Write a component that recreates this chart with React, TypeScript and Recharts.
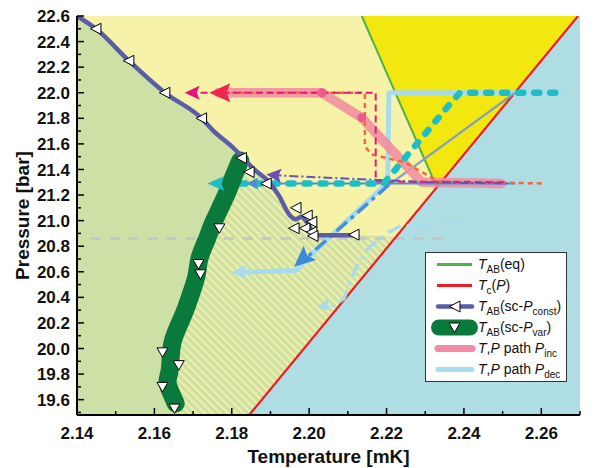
import { ComposedChart, Line, Area, Scatter, XAxis, YAxis, Legend } from 'recharts';

const FONT = '"Liberation Sans", Arial, Helvetica, sans-serif';

// axis ticks
const X_TICKS = [2.14, 2.15, 2.16, 2.17, 2.18, 2.19, 2.2, 2.21, 2.22, 2.23, 2.24, 2.25, 2.26, 2.27];
const Y_TICKS = [
  19.5, 19.6, 19.7, 19.8, 19.9, 20.0, 20.1, 20.2, 20.3, 20.4, 20.5, 20.6, 20.7, 20.8, 20.9, 21.0,
  21.1, 21.2, 21.3, 21.4, 21.5, 21.6, 21.7, 21.8, 21.9, 22.0, 22.1, 22.2, 22.3, 22.4, 22.5, 22.6,
];
const X_DOMAIN = [2.14, 2.27];
const Y_DOMAIN = [19.48, 22.6];

// T_c(P)
const TC_T = [2.1845, 2.2695];
const TC_P = [19.48, 22.6];

// T_AB(eq)
const EQ_T = [2.2136, 2.233];
const EQ_P = [22.6, 21.26];

// T_AB(sc-P_const)
const SCP_T = [2.14, 2.1449, 2.1534, 2.1627, 2.1722, 2.175, 2.1807, 2.1858, 2.1897, 2.1923, 2.1948, 2.1966, 2.1979, 2.2, 2.2013, 2.2025, 2.212];
const SCP_P = [22.6, 22.5, 22.25, 22.0, 21.8, 21.71, 21.56, 21.4, 21.3, 21.19, 21.05, 21.01, 21.03, 20.96, 20.89, 20.885, 20.885];
const SCP_MK_T = [2.1449, 2.1534, 2.1627, 2.1722, 2.1825, 2.1845, 2.1889, 2.1966, 2.1995, 2.2007, 2.1961, 2.1989, 2.2007, 2.201, 2.2116];
const SCP_MK_P = [22.5, 22.25, 22.0, 21.8, 21.49, 21.38, 21.29, 21.1, 21.04, 20.99, 20.94, 20.94, 20.91, 20.88, 20.89];

// T_AB(sc-P_var)
const SCV_T = [2.1655, 2.1642, 2.1634, 2.1639, 2.1642, 2.1647, 2.1663, 2.1681, 2.1696, 2.1709, 2.1717, 2.1735, 2.1753, 2.1784, 2.1804, 2.1822];
const SCV_P = [19.57, 19.66, 19.74, 19.82, 19.92, 20.05, 20.18, 20.31, 20.44, 20.57, 20.71, 20.85, 20.99, 21.19, 21.34, 21.47];
const SCV_MK_T = [2.1652, 2.1621, 2.1663, 2.1621, 2.1719, 2.1714, 2.1768];
const SCV_MK_P = [19.53, 19.7, 19.87, 19.97, 20.58, 20.66, 20.94];

// T,P path P_inc
const INC_T = [2.2497, 2.2291, 2.2136, 2.2033, 2.1765];
const INC_P = [21.29, 21.3, 21.805, 22.0, 22.0];
const INC_NODE_T = [2.2136, 2.2033];
const INC_NODE_P = [21.805, 22.0];

// T,P path P_dec
const DEC_T = [2.2664, 2.2206, 2.2203, 2.1987, 2.1966, 2.182];
const DEC_P = [22.0, 22.0, 21.3, 20.68, 20.61, 20.597];

// other guide paths
const ORANGE_T = [2.1752, 2.2144, 2.2144, 2.2162, 2.2249, 2.2334, 2.261];
const ORANGE_P = [22.0, 22.0, 21.58, 21.517, 21.454, 21.306, 21.29];
const MAGENTA_T = [2.1691, 2.2172, 2.2172, 2.2514];
const MAGENTA_P = [22.0, 22.0, 21.306, 21.3];
const PURPLE_T = [2.1905, 2.2309, 2.2515];
const PURPLE_P = [21.355, 21.3, 21.29];
const TEAL_T = [2.2636, 2.239, 2.2373, 2.2201, 2.2193, 2.1765];
const TEAL_P = [22.0, 22.0, 21.945, 21.32, 21.29, 21.29];
const STEEL_T = [2.1845, 2.2533];
const STEEL_P = [21.29, 21.29];
const SLATE_T = [2.2206, 2.2532];
const SLATE_P = [21.28, 22.0];
const BLUEDD_T = [2.2206, 2.1982];
const BLUEDD_P = [21.28, 20.68];
const LBDD_T = [2.2386, 2.2231, 2.2206, 2.2154, 2.2123, 2.2103, 2.209, 2.2064, 2.2035];
const LBDD_P = [20.99, 20.95, 20.91, 20.79, 20.64, 20.5, 20.39, 20.34, 20.32];
const GRAY_T = [2.1435, 2.2355];
const GRAY_P = [20.86, 20.86];

// arrow tips
const ARW_MAGENTA = { T: 2.1678, P: 22.0 };
const ARW_RED = { T: 2.1742, P: 22.0 };
const ARW_PURPLE = { T: 2.1889, P: 21.36 };
const ARW_TEAL = { T: 2.1737, P: 21.29 };
const ARW_STEEL = { T: 2.1838, P: 21.29 };
const ARW_BLUE = { T: 2.1961, P: 20.64 };
const ARW_DEC = { T: 2.1799, P: 20.597 };
const ARW_LBDD = { T: 2.202, P: 20.32 };

// regions
const BASE_T = [2.14, 2.27];
const BASE_LO = [19.48, 19.48];
const BASE_HI = [22.6, 22.6];
const GREEN_T = [...SCP_T, 2.2221];
const GREEN_HI = [...SCP_P, 20.87];
const HATCH_T = [2.1647, 2.1663, 2.1681, 2.1696, 2.1709, 2.1717, 2.1735, 2.1753, 2.1784, 2.1804, 2.1822, 2.1858, 2.1897, 2.1923, 2.1948, 2.1966, 2.1979, 2.2, 2.2013, 2.2025, 2.2221];
const HATCH_HI = [20.05, 20.18, 20.31, 20.44, 20.57, 20.71, 20.85, 20.99, 21.19, 21.34, 21.47, 21.4, 21.3, 21.19, 21.05, 21.01, 21.03, 20.96, 20.89, 20.87, 20.87];
const NORMAL_T = [2.1845, 2.2695, 2.27];
const NORMAL_HI = [19.48, 22.6, 22.6];
const AB_T = [2.2136, 2.233, 2.2695];
const AB_LO = [22.6, 21.26, 22.6];

const pts = (t: number[], p: number[]) => t.map((T, i) => ({ T, P: p[i] }));
const region = (t: number[], lo: number[] | number, hi: number[] | number) =>
  t.map((T, i) => ({
    T,
    range: [Array.isArray(lo) ? lo[i] : lo, Array.isArray(hi) ? hi[i] : hi],
  }));

const arrowShape = (color: string, angle: number, len: number, wid: number) => (props: any) => {
  const { cx, cy } = props;
  if (cx == null || cy == null) return <g />;
  return (
    <polygon
      points={`0,0 ${len},${-wid / 2} ${len * 0.82},0 ${len},${wid / 2}`}
      transform={`translate(${cx},${cy}) rotate(${angle})`}
      fill={color}
    />
  );
};

const leftTri = (props: any) => {
  const { cx, cy } = props;
  if (cx == null) return <g />;
  return <polygon points={`${cx - 5.5},${cy} ${cx + 5},${cy - 5.5} ${cx + 5},${cy + 5.5}`} fill="#fff" stroke="#000" strokeWidth={1} />;
};

const downTri = (props: any) => {
  const { cx, cy } = props;
  if (cx == null) return <g />;
  return <polygon points={`${cx - 5.5},${cy - 4.5} ${cx + 5.5},${cy - 4.5} ${cx},${cy + 5}`} fill="#fff" stroke="#000" strokeWidth={1} />;
};

const dotShape = (color: string, r: number) => (props: any) => {
  const { cx, cy } = props;
  if (cx == null) return <g />;
  return <circle cx={cx} cy={cy} r={r} fill={color} />;
};

const labelStyle = { fontFamily: FONT, fontWeight: 700, fontSize: 17, fill: '#111' } as const;

function BottomTick({ x, y, payload }: any) {
  const v = payload.value as number;
  const major = Math.round(v * 100) % 2 === 0;
  return (
    <g>
      <line x1={x} y1={y} x2={x} y2={y - (major ? 7 : 4)} stroke="#000" strokeWidth={1.5} />
      {major && (
        <text x={x} y={y + 24} textAnchor="middle" style={labelStyle}>
          {v.toFixed(2)}
        </text>
      )}
    </g>
  );
}

function TopTick({ x, y, payload }: any) {
  const major = Math.round(payload.value * 100) % 2 === 0;
  return <line x1={x} y1={y} x2={x} y2={y + (major ? 7 : 4)} stroke="#000" strokeWidth={1.5} />;
}

function LeftTick({ x, y, payload }: any) {
  const v = payload.value as number;
  const major = Math.round(v * 10) % 2 === 0;
  return (
    <g>
      <line x1={x} y1={y} x2={x + (major ? 7 : 4)} y2={y} stroke="#000" strokeWidth={1.5} />
      {major && (
        <text x={x - 7} y={y} dy="0.36em" textAnchor="end" style={labelStyle}>
          {v.toFixed(1)}
        </text>
      )}
    </g>
  );
}

function RightTick({ x, y, payload }: any) {
  const major = Math.round(payload.value * 10) % 2 === 0;
  return <line x1={x} y1={y} x2={x - (major ? 7 : 4)} y2={y} stroke="#000" strokeWidth={1.5} />;
}

const XLabel = (props: any) => {
  const vb = props.viewBox;
  return (
    <text x={vb.x + vb.width / 2} y={vb.y + 48} textAnchor="middle" style={{ ...labelStyle, fontSize: 19 }}>
      Temperature [mK]
    </text>
  );
};

const YLabel = (props: any) => {
  const vb = props.viewBox;
  const cx = vb.x + 22;
  const cy = vb.y + vb.height / 2;
  return (
    <text x={cx} y={cy} dy="0.36em" transform={`rotate(-90 ${cx} ${cy})`} textAnchor="middle" style={{ ...labelStyle, fontSize: 19 }}>
      Pressure [bar]
    </text>
  );
};

const sub = { fontSize: 10, verticalAlign: 'sub', lineHeight: 0 } as const;

function LegendRow({ icon, children }: { icon: any; children: any }) {
  return (
    <div style={{ display: 'flex', alignItems: 'center', height: 21 }}>
      <svg width={52} height={21} style={{ flex: 'none' }}>
        {icon}
      </svg>
      <span style={{ whiteSpace: 'nowrap', lineHeight: '21px' }}>{children}</span>
    </div>
  );
}

function LegendBox() {
  return (
    <div
      style={{
        width: 142,
        height: 130,
        boxSizing: 'border-box',
        border: '1.5px solid #333',
        background: '#fff',
        paddingTop: 1,
        fontFamily: FONT,
        fontSize: 14,
        color: '#111',
      }}
    >
      <LegendRow icon={<line x1={11} x2={46} y1={10.5} y2={10.5} stroke="#52b04a" strokeWidth={3} />}>
        <i>T</i>
        <span style={sub}>AB</span>(eq)
      </LegendRow>
      <LegendRow icon={<line x1={11} x2={46} y1={10.5} y2={10.5} stroke="#ee1d23" strokeWidth={3} />}>
        <i>T</i>
        <span style={sub}>c</span>(<i>P</i>)
      </LegendRow>
      <LegendRow
        icon={
          <g>
            <line x1={12} x2={46} y1={10.5} y2={10.5} stroke="#5b5ea6" strokeWidth={4.5} strokeLinecap="round" />
            {leftTri({ cx: 29, cy: 10.5 })}
          </g>
        }
      >
        <i>T</i>
        <span style={sub}>AB</span>(sc-<i>P</i>
        <span style={sub}>const</span>)
      </LegendRow>
      <LegendRow
        icon={
          <g>
            <line x1={13} x2={44} y1={10.5} y2={10.5} stroke="#0a7a3c" strokeWidth={16} strokeLinecap="round" />
            {downTri({ cx: 28.5, cy: 10.5 })}
          </g>
        }
      >
        <i>T</i>
        <span style={sub}>AB</span>(sc-<i>P</i>
        <span style={sub}>var</span>)
      </LegendRow>
      <LegendRow icon={<line x1={12} x2={46} y1={10.5} y2={10.5} stroke="#f28aa5" strokeWidth={7} strokeLinecap="round" />}>
        <i>T</i>,<i>P</i> path <i>P</i>
        <span style={sub}>inc</span>
      </LegendRow>
      <LegendRow icon={<line x1={12} x2={46} y1={10.5} y2={10.5} stroke="#a9dcec" strokeWidth={5} strokeLinecap="round" />}>
        <i>T</i>,<i>P</i> path <i>P</i>
        <span style={sub}>dec</span>
      </LegendRow>
    </div>
  );
}

const common = { isAnimationActive: false, dot: false, activeDot: false, legendType: 'none' as const };

export default function App() {
  return (
    <div style={{ position: 'absolute', left: 0, top: 0, background: '#fff' }}>
      <ComposedChart width={597} height={468} margin={{ top: 16, right: 17, bottom: 0, left: 0 }}>
        <defs>
          <pattern id="hatch" width="5.5" height="5.5" patternUnits="userSpaceOnUse" patternTransform="rotate(-45)">
            <rect width="5.5" height="5.5" fill="#cde1a7" />
            <line x1="1" y1="0" x2="1" y2="5.5" stroke="#f4f0a6" strokeWidth="2" />
          </pattern>
        </defs>
        <XAxis
          type="number"
          dataKey="T"
          domain={X_DOMAIN}
          ticks={X_TICKS}
          interval={0}
          allowDataOverflow
          height={53}
          tickSize={0}
          tickMargin={0}
          tick={BottomTick}
          tickLine={false}
          axisLine={{ stroke: '#000', strokeWidth: 2 }}
          label={XLabel}
        />
        <XAxis
          xAxisId="top"
          orientation="top"
          type="number"
          dataKey="T"
          domain={X_DOMAIN}
          ticks={X_TICKS}
          interval={0}
          allowDataOverflow
          height={0}
          tickSize={0}
          tickMargin={0}
          tick={TopTick}
          tickLine={false}
          axisLine={{ stroke: '#000', strokeWidth: 2 }}
        />
        <YAxis
          type="number"
          domain={Y_DOMAIN}
          ticks={Y_TICKS}
          interval={0}
          allowDataOverflow
          width={77}
          tickSize={0}
          tickMargin={0}
          tick={LeftTick}
          tickLine={false}
          axisLine={{ stroke: '#000', strokeWidth: 2 }}
          label={YLabel}
        />
        <YAxis
          yAxisId="right"
          orientation="right"
          type="number"
          domain={Y_DOMAIN}
          ticks={Y_TICKS}
          interval={0}
          allowDataOverflow
          width={0}
          tickSize={0}
          tickMargin={0}
          tick={RightTick}
          tickLine={false}
          axisLine={{ stroke: '#000', strokeWidth: 2 }}
        />

        {/* phase regions */}
        <Area {...common} data={region(BASE_T, BASE_LO, BASE_HI)} dataKey="range" type="linear" fill="#f6f2a8" fillOpacity={1} stroke="none" />
        <Area {...common} data={region(GREEN_T, 19.48, GREEN_HI)} dataKey="range" type="monotone" fill="#cde1a7" fillOpacity={1} stroke="none" />
        <Area {...common} data={region(HATCH_T, 19.48, HATCH_HI)} dataKey="range" type="linear" fill="url(#hatch)" fillOpacity={1} stroke="none" />
        <Area {...common} data={region(NORMAL_T, 19.48, NORMAL_HI)} dataKey="range" type="linear" fill="#afdde4" fillOpacity={1} stroke="none" />
        <Area {...common} data={region(AB_T, AB_LO, 22.6)} dataKey="range" type="linear" fill="#f2e70f" fillOpacity={1} stroke="none" />

        {/* guide lines */}
        <Line {...common} data={pts(GRAY_T, GRAY_P)} dataKey="P" stroke="#c4c4c4" strokeWidth={2.5} strokeDasharray="10 9" />
        <Line {...common} data={pts(TC_T, TC_P)} dataKey="P" stroke="#ee1d23" strokeWidth={2.2} />
        <Line {...common} data={pts(EQ_T, EQ_P)} dataKey="P" stroke="#52b04a" strokeWidth={2} />

        {/* T,P paths */}
        <Line {...common} data={pts(DEC_T, DEC_P)} dataKey="P" stroke="#a8dcec" strokeWidth={5} strokeLinejoin="round" />
        <Line {...common} data={pts(LBDD_T, LBDD_P)} dataKey="P" stroke="#a8dcec" strokeWidth={3.5} strokeDasharray="14 6 3 6" />
        <Line {...common} data={pts(SLATE_T, SLATE_P)} dataKey="P" stroke="#7e9ec4" strokeWidth={2.2} />
        <Line {...common} data={pts(INC_T, INC_P)} dataKey="P" stroke="#f2899f" strokeOpacity={0.85} strokeWidth={9.5} strokeLinecap="round" strokeLinejoin="round" />
        <Line {...common} data={pts(STEEL_T, STEEL_P)} dataKey="P" stroke="#4a8fd6" strokeWidth={2} />
        <Line {...common} data={pts(BLUEDD_T, BLUEDD_P)} dataKey="P" stroke="#4a8fd6" strokeWidth={3.5} strokeDasharray="14 5 4 5" />
        <Line {...common} data={pts(ORANGE_T, ORANGE_P)} dataKey="P" stroke="#f26a3a" strokeWidth={2.5} strokeDasharray="5 4" />
        <Line {...common} data={pts(MAGENTA_T, MAGENTA_P)} dataKey="P" stroke="#e6197a" strokeWidth={2} strokeDasharray="7 4" />
        <Line {...common} data={pts(PURPLE_T, PURPLE_P)} dataKey="P" stroke="#6b4fb3" strokeWidth={2} strokeDasharray="9 3 2 3" />
        <Line {...common} data={pts(TEAL_T, TEAL_P)} dataKey="P" stroke="#1fbdc5" strokeWidth={6.5} strokeDasharray="5 11" strokeLinecap="round" />

        {/* superconducting transitions */}
        <Line {...common} data={pts(SCV_T, SCV_P)} dataKey="P" type="natural" stroke="#0a7a3c" strokeWidth={18} strokeLinecap="round" strokeLinejoin="round" />
        <Line {...common} data={pts(SCP_T, SCP_P)} dataKey="P" type="monotone" stroke="#5b5ea6" strokeWidth={4.5} />

        {/* markers and arrow heads */}
        <Scatter isAnimationActive={false} legendType="none" data={pts(SCP_MK_T, SCP_MK_P)} dataKey="P" shape={leftTri} />
        <Scatter isAnimationActive={false} legendType="none" data={pts(SCV_MK_T, SCV_MK_P)} dataKey="P" shape={downTri} />
        <Scatter isAnimationActive={false} legendType="none" data={pts(INC_NODE_T, INC_NODE_P)} dataKey="P" shape={dotShape('#ec5a8e', 4.5)} />
        <Scatter isAnimationActive={false} legendType="none" data={[ARW_MAGENTA]} dataKey="P" shape={arrowShape('#e5177b', 0, 15, 14)} />
        <Scatter isAnimationActive={false} legendType="none" data={[ARW_RED]} dataKey="P" shape={arrowShape('#f0264f', 0, 21, 19)} />
        <Scatter isAnimationActive={false} legendType="none" data={[ARW_PURPLE]} dataKey="P" shape={arrowShape('#6b4fb3', 4.5, 15, 14)} />
        <Scatter isAnimationActive={false} legendType="none" data={[ARW_TEAL]} dataKey="P" shape={arrowShape('#1fbdc5', 0, 17, 15)} />
        <Scatter isAnimationActive={false} legendType="none" data={[ARW_STEEL]} dataKey="P" shape={arrowShape('#4a8fd6', 0, 12, 12)} />
        <Scatter isAnimationActive={false} legendType="none" data={[ARW_BLUE]} dataKey="P" shape={arrowShape('#3b8ad6', -41, 21, 19)} />
        <Scatter isAnimationActive={false} legendType="none" data={[ARW_DEC]} dataKey="P" shape={arrowShape('#a8dcec', 0, 15, 15)} />
        <Scatter isAnimationActive={false} legendType="none" data={[ARW_LBDD]} dataKey="P" shape={arrowShape('#a8dcec', -14, 14, 13)} />

        <Legend
          layout="vertical"
          align="center"
          verticalAlign="middle"
          wrapperStyle={{ left: 425, top: 252, width: 142, height: 130 }}
          content={() => <LegendBox />}
        />
      </ComposedChart>
    </div>
  );
}
